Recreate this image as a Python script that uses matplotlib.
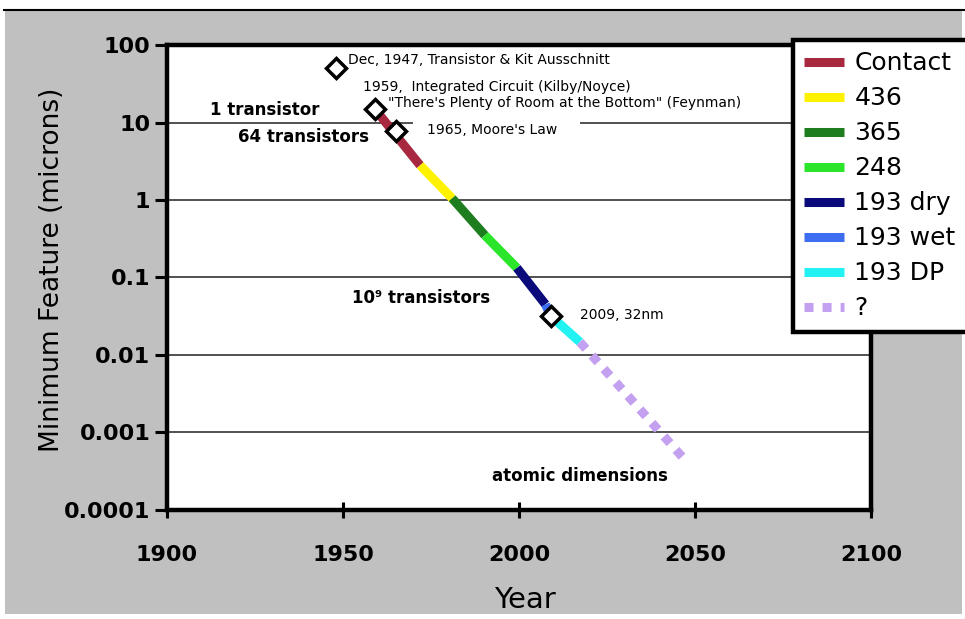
import matplotlib.pyplot as plt
from matplotlib.lines import Line2D
from matplotlib.patches import Rectangle

# lithography eras: boundary years and minimum feature size (microns)
era_years = [1959, 1971.9, 1981.0, 1990.3, 1999.4, 2007.5, 2009, 2017.3, 2048]
era_sizes = [15, 2.8, 1.05, 0.35, 0.133, 0.045, 0.032, 0.0147, 0.0004]
era_names = ['Contact', '436', '365', '248', '193 dry', '193 wet', '193 DP', '?']
era_colors = ['#a82840', '#fff200', '#1e7d1e', '#2be52b', '#0a0a7a',
              '#3d6df0', '#22f2f2', '#c4a0f0']

# milestones marked with diamonds
milestone_years = [1947.9, 1959, 1965, 2009]
milestone_sizes = [50, 15, 7.8, 0.032]

ytick_vals = [1e-4, 1e-3, 1e-2, 1e-1, 1, 10, 100]
ytick_labels = ['0.0001', '0.001', '0.01', '0.1', '1', '10', '100']
xtick_vals = [1900, 1950, 2000, 2050, 2100]

fig = plt.figure(figsize=(9.65, 6.19), dpi=100)
fig.patch.set_facecolor('white')
fig.patches.append(Rectangle((5 / 965, 5 / 619), 957 / 965, 605 / 619,
                             transform=fig.transFigure, facecolor='#c0c0c0',
                             edgecolor='none', zorder=-10))
fig.add_artist(Line2D([4 / 965, 1], [1 - 9.5 / 619] * 2, color='black', lw=1.5))

ax = fig.add_axes([0.1731, 0.1761, 0.7295, 0.7512])
ax.set_facecolor('white')
ax.set_yscale('log')
ax.set_xlim(1900, 2100)
ax.set_ylim(1e-4, 100)
ax.minorticks_off()
ax.set_axisbelow(True)
ax.yaxis.grid(True, color='#333333', lw=1.2)

for i in range(len(era_names)):
    seg_x = era_years[i:i + 2]
    seg_y = era_sizes[i:i + 2]
    if era_names[i] == '?':
        ax.plot(seg_x, seg_y, color=era_colors[i], lw=6.5,
                linestyle=(0, (1, 1)), dash_capstyle='butt', zorder=2)
    else:
        ax.plot(seg_x, seg_y, color=era_colors[i], lw=6.5,
                solid_capstyle='butt', zorder=2)

ax.plot(milestone_years, milestone_sizes, linestyle='none', marker='D',
        markersize=10, markerfacecolor='white', markeredgecolor='black',
        markeredgewidth=2.5, zorder=5)

ax.set_xticks(xtick_vals)
ax.set_xticklabels([str(v) for v in xtick_vals])
ax.set_yticks(ytick_vals)
ax.set_yticklabels(ytick_labels)
ax.tick_params(axis='y', direction='out', length=9, width=2.2, pad=3,
               labelsize=16)
ax.tick_params(axis='x', direction='inout', length=12, width=2.2, pad=19,
               labelsize=16)
for lab in ax.get_xticklabels() + ax.get_yticklabels():
    lab.set_fontweight('bold')
for sp in ax.spines.values():
    sp.set_linewidth(3.2)

ax.set_xlabel('Year', fontsize=21)
ax.xaxis.set_label_coords(0.508, -0.163)
ax.set_ylabel('Minimum Feature (microns)', fontsize=19)
ax.yaxis.set_label_coords(-0.145, 0.516)

# annotations
small = dict(fontsize=10, va='center', ha='left', zorder=3)
big = dict(fontsize=12, fontweight='bold', va='center', ha='left', zorder=3)
ax.text(1951.4, 64, 'Dec, 1947, Transistor & Kit Ausschnitt', **small)
ax.text(1955.7, 28.7, '1959,  Integrated Circuit (Kilby/Noyce)', **small)
ax.text(1962.8, 17.9, '"There\'s Plenty of Room at the Bottom" (Feynman)', **small)
ax.text(1973.9, 8.0, "1965, Moore's Law  ", fontsize=10, va='center', ha='left',
        zorder=1, bbox=dict(boxstyle='square,pad=1.0', fc='white', ec='none'))
ax.text(1912.2, 14.5, '1 transistor', **big)
ax.text(1920.2, 6.5, '64 transistors', **big)
ax.text(1952.6, 0.0543, '10\u2079 transistors', **big)
ax.text(2017.3, 0.0328, '2009, 32nm', **small)
ax.text(1992.3, 0.000275, 'atomic dimensions', **big)

handles = []
for name, col in zip(era_names, era_colors):
    if name == '?':
        handles.append(Line2D([], [], color=col, lw=6.5, linestyle=(0, (1, 1)),
                              dash_capstyle='butt'))
    else:
        handles.append(Line2D([], [], color=col, lw=6.5, solid_capstyle='butt'))
# legend box runs off the right edge of the figure
leg = fig.legend(handles, era_names, loc='upper left', mode='expand',
                 bbox_to_anchor=(793 / 965, 0, 200 / 965, 1 - 40 / 619),
                 fontsize=18, frameon=True, fancybox=False, framealpha=1,
                 edgecolor='black', borderaxespad=0, borderpad=0.45,
                 labelspacing=0.44, handlelength=1.6, handletextpad=0.4)
leg.get_frame().set_linewidth(3.2)

fig.savefig('out.png', dpi=100, facecolor=fig.get_facecolor())
